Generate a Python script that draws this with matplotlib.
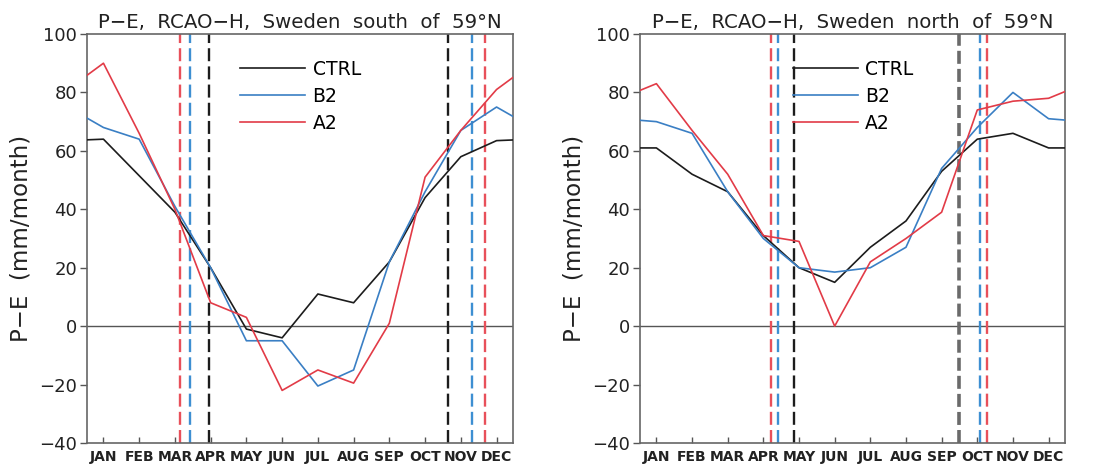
import numpy as np
import matplotlib.pyplot as plt

# Monthly P-E (mm/month)
months = ['JAN', 'FEB', 'MAR', 'APR', 'MAY', 'JUN',
          'JUL', 'AUG', 'SEP', 'OCT', 'NOV', 'DEC']

south_ctrl = [64, 51.5, 39, 20, -1, -4, 11, 8, 22, 44, 58, 63.5]
south_b2 = [68, 64, 41, 20, -5, -5, -20.5, -15, 22, 46, 67, 75]
south_a2 = [90, 66, 40, 8, 3, -22, -15, -19.5, 1, 51, 67, 81]

north_ctrl = [61, 52, 46, 31, 20, 15, 27, 36, 53, 64, 66, 61]
north_b2 = [70, 66, 46, 30, 20, 18.5, 20, 27, 54, 68, 80, 71]
north_a2 = [83, 67, 52, 31, 29, 0, 22, 30, 39, 74, 77, 78]

# start / end of the snow season (month position) per run: CTRL, B2, A2
south_start = [3.94, 3.43, 3.13]
south_end = [10.65, 11.30, 11.68]
north_start = [4.85, 4.42, 4.22]
north_end = [9.50, 10.07, 10.28]

run_names = ['CTRL', 'B2', 'A2']
colors = ['#1c1c1c', '#3a7fc4', '#e23b47']
dash_colors = ['#1c1c1c', '#3d8fd2', '#e8505a']

yticks = [-40, -20, 0, 20, 40, 60, 80, 100]


def cyclic(vals):
    # wrap Dec before Jan and Jan after Dec so the line runs to the frame
    x = np.arange(0, 14)
    y = [vals[-1]] + list(vals) + [vals[0]]
    return x, y


def draw_panel(ax, series, starts, ends, title, gray_last=False):
    ax.axhline(0, color='#555555', lw=1.0, zorder=1)
    for i, vals in enumerate(series):
        x, y = cyclic(vals)
        ax.plot(x, y, color=colors[i], lw=1.2, label=run_names[i], zorder=3)
    for i in range(3):
        ax.axvline(starts[i], color=dash_colors[i], lw=1.7, dashes=(5.5, 2.2), zorder=2)
        c, lw, d = dash_colors[i], 1.7, (5.5, 2.2)
        if gray_last and i == 0:
            c, lw, d = '#6a6a6a', 2.6, (3.6, 1.4)
        ax.axvline(ends[i], color=c, lw=lw, dashes=d, zorder=2)

    ax.set_xlim(0.54, 12.46)
    ax.set_ylim(-40, 100)
    ax.set_yticks(yticks)
    ax.set_xticks(np.arange(1, 13))
    ax.set_xticklabels(months, family=['Liberation Sans Narrow', 'DejaVu Sans'],
                       fontsize=10, fontweight='bold', color='#222222')
    ax.tick_params(axis='y', direction='out', length=5, width=1, color='#555555',
                   labelsize=13, pad=2, labelcolor='#222222')
    ax.tick_params(axis='x', direction='in', length=4, width=1, color='#555555', pad=5)
    for s in ax.spines.values():
        s.set_color('#666666')
        s.set_linewidth(1.2)
    ax.set_ylabel('P\u2212E  (mm/month)', fontsize=16.5, color='#222222', labelpad=5)
    ax.set_title(title, fontsize=14.2, color='#222222', pad=4)
    ax.legend(loc='upper left', bbox_to_anchor=(0.36, 0.937), frameon=False,
              fontsize=13.5, handlelength=3.45, handletextpad=0.4,
              labelspacing=0.42, borderpad=0, borderaxespad=0)


fig = plt.figure(figsize=(11.01, 4.71), dpi=100)
ax1 = fig.add_axes([87 / 1101, 28 / 471, 426 / 1101, 409 / 471])
ax2 = fig.add_axes([640 / 1101, 28 / 471, 425 / 1101, 409 / 471])

draw_panel(ax1, [south_ctrl, south_b2, south_a2], south_start, south_end,
           'P\u2212E,  RCAO\u2212H,  Sweden  south  of  59\u00b0N')
draw_panel(ax2, [north_ctrl, north_b2, north_a2], north_start, north_end,
           'P\u2212E,  RCAO\u2212H,  Sweden  north  of  59\u00b0N', gray_last=True)

fig.savefig('out.png', dpi=100)
